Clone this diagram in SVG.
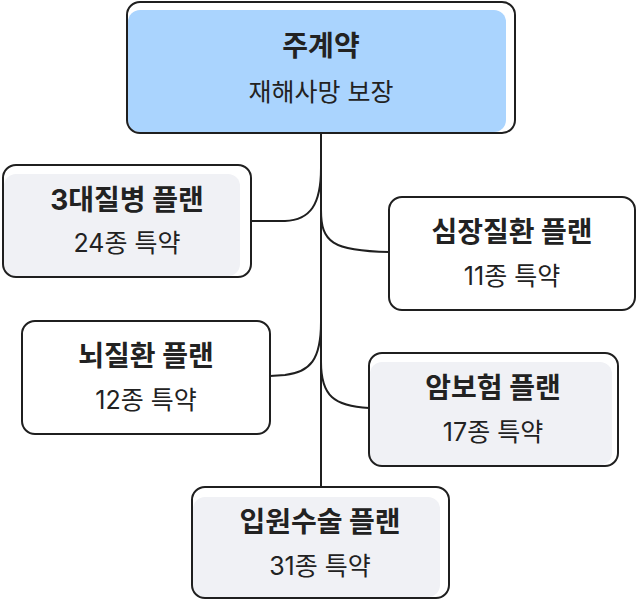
<svg xmlns="http://www.w3.org/2000/svg" width="640" height="601" viewBox="0 0 640 601">
<style>
.bg{fill:#ffffff;stroke:none}
.frame{fill:none;stroke:#1f1f1f;stroke-width:2}
.blue{fill:#aad4fe}
.gray{fill:#f0f1f5}
.conn path{fill:none;stroke:#1f1f1f;stroke-width:2}
.t{font-family:Inter,"Noto Sans CJK KR",sans-serif;font-size:28px;font-weight:700;fill:#222;text-anchor:middle;dominant-baseline:central}
.s{font-family:Inter,"Noto Sans CJK KR",sans-serif;font-size:25px;font-weight:400;fill:#222;text-anchor:middle;dominant-baseline:central}
</style>
<rect width="640" height="601" fill="#ffffff"/>
<g class="conn" id="connectors">
<path d="M321,133 V487"/>
<path d="M251,221 L285,221 C310,220 321,205 321,168"/>
<path d="M321,210 C321,242 332,251 389,252"/>
<path d="M270,376 L285,375 C310,372 321,360 321,322"/>
<path d="M321,362 C321,396 334,406 369,408"/>
</g>
<g id="main">
<rect class="bg" x="127" y="2" width="388" height="131" rx="13"/>
<rect class="blue" x="128" y="10" width="378" height="122" rx="12"/>
<rect class="frame" x="127" y="2" width="388" height="131" rx="13"/>
<text class="t" x="321" y="46">주계약</text>
<text class="s" x="321" y="92">재해사망 보장</text>
</g>
<g id="n3">
<rect class="bg" x="3" y="165" width="248" height="112" rx="13"/>
<rect class="gray" x="4" y="174" width="236" height="102" rx="12"/>
<rect class="frame" x="3" y="165" width="248" height="112" rx="13"/>
<text class="t" x="127" y="200">3대질병 플랜</text>
<text class="s" x="127" y="243">24종 특약</text>
</g>
<g id="heart">
<rect class="bg" x="389" y="197" width="246" height="113" rx="13"/>
<rect class="frame" x="389" y="197" width="246" height="113" rx="13"/>
<text class="t" x="512" y="232">심장질환 플랜</text>
<text class="s" x="512" y="276">11종 특약</text>
</g>
<g id="brain">
<rect class="bg" x="22" y="321" width="248" height="113" rx="13"/>
<rect class="frame" x="22" y="321" width="248" height="113" rx="13"/>
<text class="t" x="146" y="356">뇌질환 플랜</text>
<text class="s" x="146" y="400">12종 특약</text>
</g>
<g id="cancer">
<rect class="bg" x="369" y="353" width="249" height="113" rx="13"/>
<rect class="gray" x="370" y="362" width="242" height="103" rx="12"/>
<rect class="frame" x="369" y="353" width="249" height="113" rx="13"/>
<text class="t" x="493" y="388">암보험 플랜</text>
<text class="s" x="493" y="432">17종 특약</text>
</g>
<g id="surgery">
<rect class="bg" x="192" y="487" width="257" height="111" rx="13"/>
<rect class="gray" x="193" y="497" width="247" height="100" rx="12"/>
<rect class="frame" x="192" y="487" width="257" height="111" rx="13"/>
<text class="t" x="320" y="522">입원수술 플랜</text>
<text class="s" x="320" y="566">31종 특약</text>
</g>
</svg>
